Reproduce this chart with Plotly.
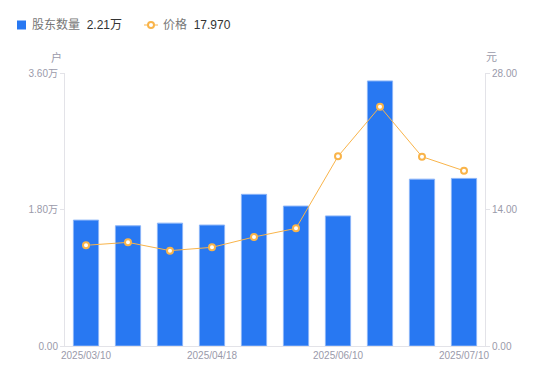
import plotly.graph_objects as go

categories = ["2025/03/10", "2025/03/20", "2025/03/31", "2025/04/18", "2025/04/30",
              "2025/05/20", "2025/06/10", "2025/06/20", "2025/06/30", "2025/07/10"]
holders = [16600, 15850, 16200, 15950, 20000, 18450, 17150, 34950, 22000, 22100]
price = [10.33, 10.63, 9.78, 10.12, 11.18, 12.07, 19.45, 24.55, 19.42, 17.97]
x_tick_labels = ["2025/03/10", "2025/04/18", "2025/06/10", "2025/07/10"]
left_ticks = [0, 18000, 36000]
left_tick_text = ["0.00", "1.80万", "3.60万"]
right_ticks = [0, 14, 28]
right_tick_text = ["0.00", "14.00", "28.00"]
legend_names = ["股东数量", "价格"]
legend_values = ["2.21万", "17.970"]

FONT = "Liberation Sans, Arial, Noto Sans CJK SC"
GRAY = "#9a9aaa"
BLUE = "#2878f2"
ORANGE = "#f9b44a"

W, H = 550, 381
L, R, T, B = 65, 65, 73, 35
PW, PH = W - L - R, H - T - B


def px(x):
    return (x - L) / PW


def py(y):
    return (H - B - y) / PH


fig = go.Figure()
fig.add_trace(go.Bar(
    x=categories, y=holders, name=legend_names[0],
    marker=dict(color=BLUE, line=dict(color="#8ab4f8", width=1)),
    yaxis="y",
))
fig.add_trace(go.Scatter(
    x=categories, y=price, name=legend_names[1],
    mode="lines+markers",
    line=dict(color=ORANGE, width=1),
    marker=dict(symbol="circle", size=6, color="white", line=dict(color=ORANGE, width=2)),
    yaxis="y2",
))

shapes = [
    dict(type="rect", xref="paper", yref="paper", x0=px(17), x1=px(26), y0=py(29.5), y1=py(20.5),
         fillcolor=BLUE, line=dict(width=0)),
    dict(type="line", xref="paper", yref="paper", x0=px(144), x1=px(158), y0=py(25), y1=py(25),
         line=dict(color=ORANGE, width=1)),
    dict(type="circle", xref="paper", yref="paper", x0=px(148), x1=px(154), y0=py(28), y1=py(22),
         fillcolor="white", line=dict(color=ORANGE, width=2)),
]

annotations = [
    dict(text=f"{legend_names[0]} <span style='color:#333333'> {legend_values[0]}</span>",
         xref="paper", yref="paper", x=px(30), y=py(25), showarrow=False,
         xanchor="left", yanchor="middle", font=dict(size=12, color="#777777")),
    dict(text=f"{legend_names[1]} <span style='color:#333333'> {legend_values[1]}</span>",
         xref="paper", yref="paper", x=px(161), y=py(25), showarrow=False,
         xanchor="left", yanchor="middle", font=dict(size=12, color="#777777")),
    dict(text="户", xref="paper", yref="paper", x=px(64), y=py(57), showarrow=False,
         xanchor="right", yanchor="middle", font=dict(size=11, color=GRAY)),
    dict(text="元", xref="paper", yref="paper", x=px(484), y=py(57), showarrow=False,
         xanchor="left", yanchor="middle", font=dict(size=11, color=GRAY)),
]

fig.update_layout(
    width=W, height=H,
    margin=dict(l=L, r=R, t=T, b=B, autoexpand=False),
    paper_bgcolor="white", plot_bgcolor="white",
    font=dict(family=FONT, size=11, color=GRAY),
    bargap=0.4,
    showlegend=False,
    xaxis=dict(type="category", range=[-0.5, len(categories) - 0.5],
               tickmode="array", tickvals=x_tick_labels, ticktext=x_tick_labels,
               showline=True, linecolor="#e3e3e8", linewidth=1, ticks="",
               showgrid=False, tickfont=dict(size=10, color=GRAY)),
    yaxis=dict(range=[0, 36000], tickmode="array", tickvals=left_ticks, ticktext=left_tick_text,
               showline=True, linecolor="#e3e3e8", showgrid=False, zeroline=False,
               ticks="outside", ticklen=4, tickcolor="#e3e3e8",
               tickfont=dict(size=10, color=GRAY)),
    yaxis2=dict(range=[0, 28], overlaying="y", side="right", tickmode="array",
                tickvals=right_ticks, ticktext=right_tick_text,
                showline=True, linecolor="#e3e3e8", showgrid=False, zeroline=False,
                ticks="outside", ticklen=4, tickcolor="#e3e3e8",
                tickfont=dict(size=10, color=GRAY)),
    shapes=shapes,
    annotations=annotations,
)

fig.write_html("out.html",
               config={"displayModeBar": False},
               post_script="document.body.style.margin='0';document.body.style.overflow='hidden';")
